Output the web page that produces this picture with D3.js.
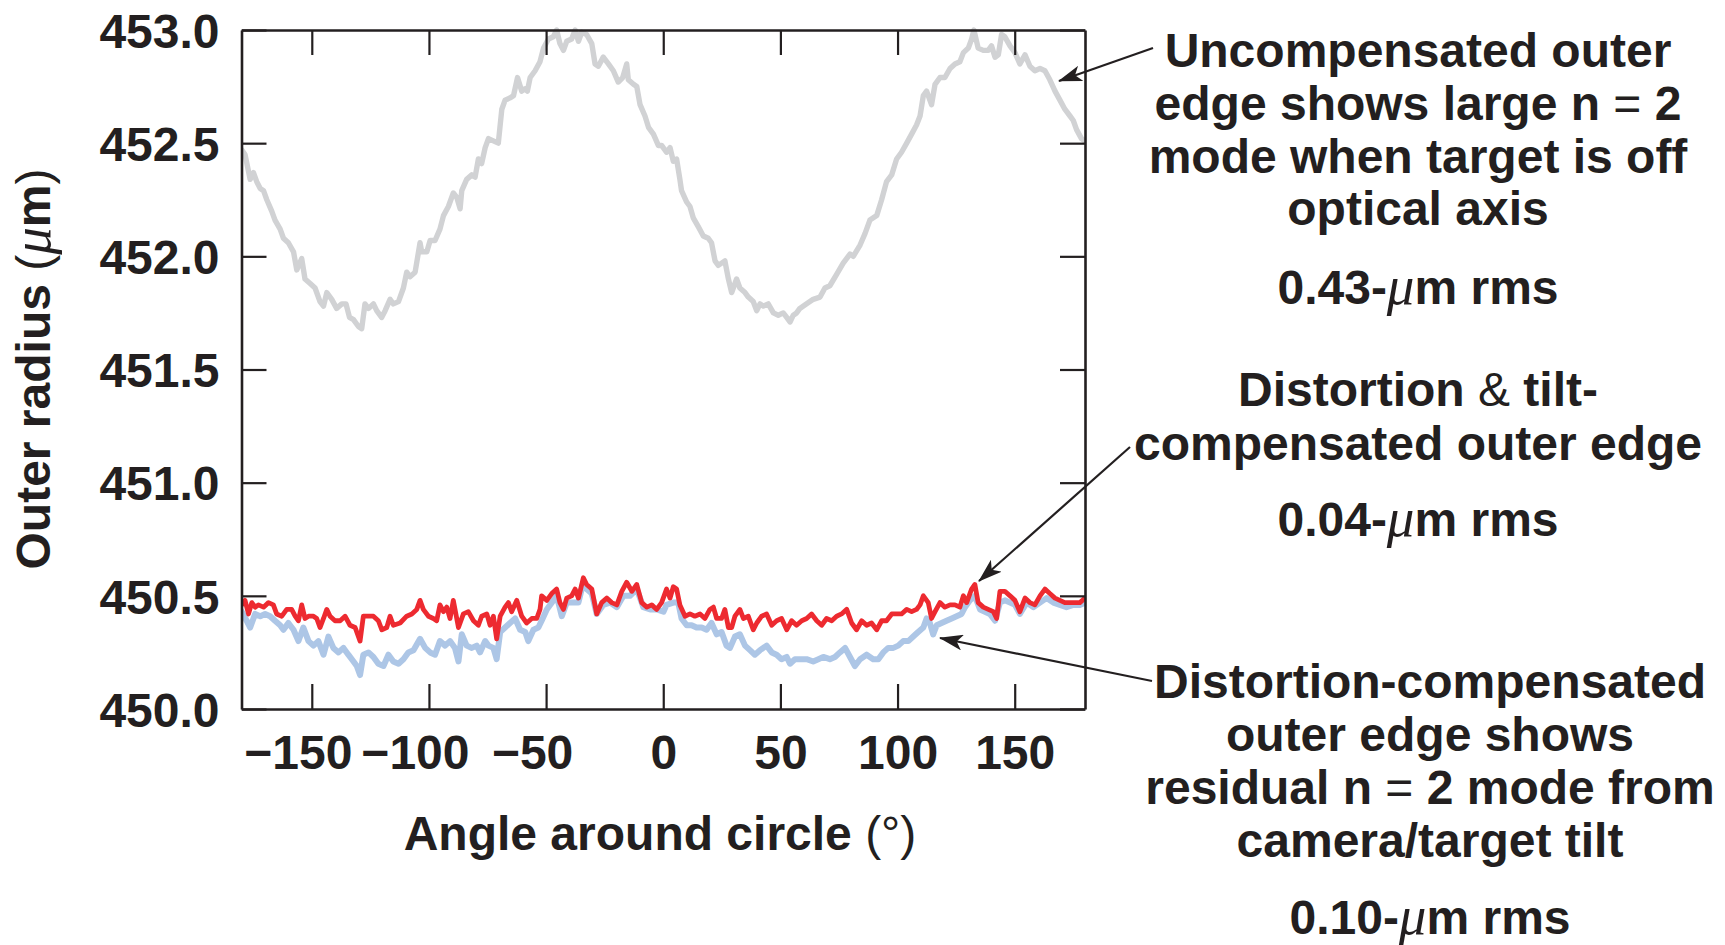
<!DOCTYPE html>
<html><head><meta charset="utf-8">
<script src="https://cdn.jsdelivr.net/npm/d3@7"></script>
<style>
html,body{margin:0;padding:0;background:#fff;}
svg{display:block;}
</style></head>
<body>
<svg id="chart" width="1725" height="945"></svg>
<script>
// ---------------- DATA ----------------
const xTicks = [-150, -100, -50, 0, 50, 100, 150];
const xTickLabels = ["\u2212150", "\u2212100", "\u221250", "0", "50", "100", "150"];
const yTicks = [450.0, 450.5, 451.0, 451.5, 452.0, 452.5, 453.0];
const yTickLabels = ["450.0", "450.5", "451.0", "451.5", "452.0", "452.5", "453.0"];

// Uncompensated outer edge (gray)
const grayAngle = [-179.9,-178.5,-176.3,-174.9,-173.5,-172.0,-170.6,-169.2,-167.1,-165.7,-163.5,-162.1,-160.0,-157.8,-156.4,-154.3,-152.9,-150.7,-148.6,-146.5,-145.0,-143.6,-141.5,-139.4,-137.2,-135.4,-133.9,-132.2,-130.1,-128.7,-127.3,-125.8,-123.7,-122.3,-120.2,-118.7,-116.6,-115.2,-113.0,-110.9,-109.5,-108.1,-105.9,-103.8,-103.1,-100.9,-99.5,-97.4,-95.3,-93.8,-91.7,-89.6,-88.1,-86.7,-86.0,-83.9,-81.7,-80.3,-78.9,-77.5,-76.0,-74.6,-72.5,-70.4,-68.9,-67.5,-65.4,-63.9,-62.2,-60.4,-59.0,-58.0,-56.8,-54.7,-52.6,-51.1,-49.0,-46.9,-45.5,-44.1,-42.6,-41.2,-39.1,-37.6,-36.2,-34.8,-32.7,-30.5,-29.1,-27.7,-25.6,-23.4,-21.3,-19.2,-17.3,-15.6,-14.9,-12.7,-11.3,-9.9,-7.8,-6.3,-4.2,-2.1,-0.7,1.4,2.9,4.3,5.7,7.1,7.8,10.0,11.4,12.8,15.0,17.1,19.2,20.6,22.1,23.5,26.3,27.8,29.2,31.3,32.7,34.9,36.3,38.4,39.9,41.3,42.7,44.8,47.0,49.1,51.2,52.7,54.1,55.5,56.9,58.3,61.2,64.0,66.9,69.0,71.1,74.0,76.8,79.7,81.1,84.0,86.1,88.2,91.1,93.2,95.3,97.5,99.6,101.7,103.9,106.0,108.1,109.6,111.0,112.4,114.5,116.0,118.1,120.2,122.4,124.5,126.6,128.1,130.2,131.6,132.6,134.4,136.6,138.7,140.1,141.6,143.0,144.4,145.8,148.0,150.1,152.2,154.4,156.5,158.6,160.8,162.9,165.0,167.2,169.3,171.4,173.6,175.0,176.4,178.5,180.0];
const grayValue = [452.47,452.45,452.34,452.37,452.33,452.30,452.29,452.25,452.20,452.16,452.12,452.08,452.06,452.02,451.94,451.99,451.90,451.88,451.86,451.80,451.78,451.84,451.81,451.77,451.79,451.79,451.73,451.72,451.69,451.68,451.79,451.77,451.79,451.76,451.73,451.76,451.81,451.79,451.80,451.86,451.93,451.91,451.93,452.06,452.02,452.02,452.07,452.07,452.12,452.18,452.22,452.28,452.26,452.21,452.29,452.34,452.36,452.35,452.43,452.41,452.48,452.52,452.51,452.50,452.65,452.69,452.70,452.71,452.79,452.73,452.74,452.73,452.79,452.82,452.86,452.92,452.96,452.97,453.00,452.94,452.91,452.95,452.96,453.00,452.95,452.99,452.98,452.94,452.85,452.84,452.88,452.85,452.82,452.77,452.79,452.85,452.78,452.76,452.75,452.67,452.62,452.57,452.54,452.49,452.49,452.46,452.48,452.42,452.43,452.34,452.29,452.24,452.22,452.17,452.13,452.09,452.08,452.06,451.98,451.96,451.98,451.90,451.84,451.90,451.86,451.84,451.82,451.80,451.76,451.79,451.78,451.79,451.75,451.74,451.75,451.73,451.71,451.74,451.75,451.77,451.79,451.81,451.82,451.86,451.87,451.92,451.97,452.01,452.00,452.05,452.10,452.16,452.18,452.25,452.33,452.36,452.43,452.46,452.50,452.54,452.58,452.62,452.71,452.73,452.67,452.76,452.79,452.79,452.83,452.85,452.86,452.90,452.92,452.96,453.00,452.92,452.91,452.91,452.93,452.88,452.89,452.98,452.97,452.93,452.90,452.85,452.89,452.84,452.82,452.83,452.82,452.78,452.73,452.69,452.65,452.62,452.60,452.56,452.52,452.51];

// Distortion-compensated outer edge (light blue)
const blueAngle = [-179.9,-177.8,-176.3,-174.2,-172.0,-169.9,-167.8,-165.7,-163.5,-162.1,-160.0,-157.8,-155.7,-153.6,-151.4,-149.3,-147.2,-145.0,-142.9,-140.8,-138.6,-136.5,-134.4,-132.2,-130.8,-129.4,-128.0,-125.8,-123.7,-121.6,-119.4,-117.3,-115.2,-113.0,-110.9,-108.8,-106.6,-103.8,-101.6,-99.5,-97.4,-95.3,-93.1,-91.0,-88.9,-87.4,-86.0,-83.9,-81.7,-79.6,-78.2,-76.0,-74.6,-72.5,-71.1,-69.6,-67.5,-65.4,-63.2,-61.1,-58.9,-57.6,-55.4,-53.3,-51.9,-49.7,-47.6,-45.5,-43.3,-41.2,-38.4,-36.2,-34.1,-32.7,-30.5,-28.4,-25.6,-22.7,-19.8,-17.0,-14.2,-11.3,-8.5,-5.6,-2.8,0.1,1.4,4.3,6.4,7.8,10.0,12.1,14.2,16.4,18.5,20.6,22.8,24.9,27.0,28.5,30.6,32.7,34.9,37.0,39.1,41.3,44.1,46.3,48.4,50.5,52.7,54.1,56.2,58.3,61.2,64.0,66.2,68.3,71.1,73.3,75.4,77.6,79.7,81.8,84.0,86.8,89.6,91.8,93.9,96.0,98.2,100.3,102.4,104.6,106.7,108.8,111.0,112.4,113.8,115.2,116.7,118.8,120.9,123.1,125.2,127.3,128.8,130.9,133.0,135.2,137.3,139.4,141.6,143.7,145.8,148.0,150.1,152.2,155.1,157.9,160.8,163.6,166.5,169.3,172.1,175.0,177.8,180.0];
const blueValue = [450.43,450.39,450.36,450.42,450.41,450.42,450.41,450.39,450.37,450.35,450.38,450.35,450.30,450.36,450.30,450.28,450.30,450.24,450.32,450.27,450.25,450.27,450.24,450.21,450.19,450.15,450.24,450.25,450.23,450.20,450.19,450.24,450.21,450.20,450.22,450.25,450.26,450.31,450.27,450.25,450.24,450.30,450.28,450.30,450.27,450.21,450.33,450.28,450.27,450.28,450.25,450.30,450.28,450.27,450.22,450.34,450.36,450.38,450.40,450.35,450.34,450.30,450.35,450.36,450.39,450.44,450.47,450.50,450.41,450.47,450.47,450.47,450.56,450.53,450.51,450.42,450.46,450.47,450.45,450.50,450.50,450.53,450.45,450.44,450.44,450.43,450.46,450.47,450.47,450.40,450.37,450.37,450.36,450.36,450.35,450.38,450.33,450.34,450.28,450.27,450.32,450.33,450.28,450.26,450.24,450.26,450.28,450.25,450.24,450.22,450.23,450.20,450.22,450.22,450.22,450.21,450.22,450.23,450.22,450.23,450.25,450.27,450.23,450.19,450.22,450.24,450.22,450.22,450.25,450.27,450.27,450.28,450.30,450.30,450.32,450.34,450.36,450.40,450.38,450.33,450.37,450.38,450.39,450.40,450.41,450.42,450.45,450.48,450.50,450.44,450.43,450.42,450.39,450.47,450.48,450.47,450.46,450.42,450.47,450.45,450.47,450.49,450.47,450.46,450.45,450.46,450.46,450.47];

// Distortion & tilt-compensated outer edge (red)
const redAngle = [-179.9,-178.5,-177.0,-175.6,-174.2,-172.8,-170.6,-168.5,-166.4,-165.0,-162.8,-160.7,-158.6,-157.1,-155.7,-154.3,-152.9,-151.4,-149.3,-147.9,-146.5,-145.0,-143.6,-142.2,-140.1,-137.9,-135.8,-133.7,-131.5,-129.4,-128.0,-125.8,-123.7,-121.6,-120.1,-118.0,-116.6,-115.2,-112.3,-109.5,-107.3,-105.2,-103.8,-102.4,-100.2,-98.1,-96.7,-95.3,-93.8,-92.4,-91.0,-89.6,-87.4,-85.3,-83.2,-81.0,-78.9,-77.5,-75.3,-73.9,-72.5,-71.1,-69.6,-67.5,-66.1,-64.7,-62.5,-60.4,-58.3,-56.1,-54.0,-52.6,-51.9,-49.7,-47.6,-45.5,-44.1,-42.6,-41.2,-39.1,-37.6,-36.2,-34.1,-32.7,-30.5,-28.4,-26.3,-24.1,-22.0,-19.8,-17.7,-15.6,-13.4,-11.3,-9.2,-7.0,-4.9,-2.8,-0.7,0.0,1.4,2.9,4.3,5.7,7.1,9.3,11.4,13.5,15.7,17.8,19.9,21.4,22.8,24.9,26.3,27.8,29.2,30.6,32.7,34.2,36.3,38.4,39.9,42.0,44.1,46.3,48.4,50.5,52.7,54.8,56.9,59.1,61.2,63.3,65.5,67.6,69.7,71.9,74.0,76.1,78.3,80.4,82.5,84.7,86.8,88.9,91.1,93.2,95.3,97.5,99.6,101.7,103.9,106.0,108.1,109.6,111.0,113.1,114.5,116.0,118.1,120.2,122.4,124.5,126.6,128.1,129.5,131.6,133.0,134.4,136.6,138.7,140.9,142.3,143.7,145.8,148.0,150.1,152.2,154.4,156.5,158.6,160.8,162.9,165.0,167.2,169.3,171.4,173.6,175.7,177.8,180.0];
const redValue = [450.46,450.48,450.42,450.47,450.45,450.46,450.45,450.47,450.46,450.42,450.41,450.44,450.44,450.41,450.39,450.46,450.40,450.41,450.41,450.40,450.36,450.40,450.44,450.41,450.39,450.39,450.41,450.37,450.36,450.30,450.41,450.41,450.41,450.39,450.35,450.36,450.41,450.37,450.38,450.41,450.42,450.44,450.48,450.44,450.41,450.40,450.39,450.46,450.43,450.45,450.40,450.48,450.36,450.42,450.43,450.39,450.37,450.41,450.42,450.37,450.41,450.31,450.41,450.45,450.47,450.43,450.48,450.41,450.38,450.40,450.40,450.44,450.50,450.48,450.51,450.53,450.47,450.44,450.49,450.50,450.53,450.49,450.58,450.55,450.53,450.42,450.47,450.49,450.47,450.46,450.52,450.56,450.52,450.55,450.47,450.45,450.46,450.44,450.47,450.49,450.53,450.49,450.54,450.53,450.46,450.41,450.42,450.41,450.42,450.40,450.44,450.45,450.40,450.40,450.44,450.36,450.36,450.41,450.44,450.40,450.41,450.35,450.38,450.41,450.42,450.37,450.39,450.40,450.35,450.39,450.37,450.39,450.40,450.42,450.39,450.37,450.40,450.39,450.41,450.42,450.44,450.38,450.35,450.39,450.37,450.38,450.35,450.39,450.39,450.42,450.42,450.42,450.44,450.43,450.44,450.46,450.50,450.47,450.40,450.43,450.47,450.45,450.46,450.46,450.45,450.50,450.47,450.53,450.55,450.47,450.45,450.44,450.43,450.40,450.52,450.52,450.50,450.48,450.43,450.49,450.47,450.46,450.50,450.53,450.51,450.49,450.48,450.47,450.47,450.47,450.47,450.49];

// ---------------- DRAWING ----------------
const INK = "#231f20";
const FONT = "'Liberation Sans', Arial, Helvetica, sans-serif";
const FS = 48;

const svg = d3.select("#chart");
svg.append("rect").attr("width", 1725).attr("height", 945).attr("fill", "#fff");

const x = d3.scaleLinear().domain([-180, 180]).range([241.5, 1085]);
const y = d3.scaleLinear().domain([450, 453]).range([709, 30]);

const plot = svg.append("g");
svg.append("defs").append("clipPath").attr("id", "pclip")
  .append("rect").attr("x", 241.5).attr("y", 26).attr("width", 843.5).attr("height", 686);

const line = d3.line().x(d => x(d[0])).y(d => y(d[1]));
const zip = (a, b) => a.map((v, i) => [v, b[i]]);

const series = [
  { data: zip(grayAngle, grayValue), color: "#d1d2d4", w: 5.4 },
  { data: zip(blueAngle, blueValue), color: "#adc6e6", w: 6.0 },
  { data: zip(redAngle, redValue), color: "#ed2a30", w: 4.8 }
];
plot.append("g").attr("clip-path", "url(#pclip)")
  .selectAll("path").data(series).join("path")
  .attr("d", d => line(d.data))
  .attr("fill", "none")
  .attr("stroke", d => d.color)
  .attr("stroke-width", d => d.w)
  .attr("stroke-linejoin", "round")
  .attr("stroke-linecap", "round");

// axes
const TL = 25;
function styleAxis(g) {
  g.select(".domain").attr("stroke", INK).attr("stroke-width", 2.6);
  g.selectAll(".tick line").attr("stroke", INK).attr("stroke-width", 2.2);
  g.selectAll(".tick text").attr("fill", INK).style("font-family", FONT)
    .style("font-size", FS + "px").style("font-weight", "bold");
}
const gb = svg.append("g").attr("transform", `translate(0,${y(450)})`)
  .call(d3.axisBottom(x).tickValues(xTicks).tickSizeInner(-TL).tickSizeOuter(0).tickPadding(TL + 1)
    .tickFormat((d, i) => xTickLabels[i]));
styleAxis(gb);
// center the digits on the tick (minus sign hangs to the left)
gb.selectAll(".tick text").each(function(d) {
  const t = d3.select(this);
  if (d < 0) {
    const full = this.getComputedTextLength();
    t.text(String(Math.abs(d)));
    const digits = this.getComputedTextLength();
    t.text(xTickLabels[xTicks.indexOf(d)]);
    t.attr("dx", -(full - digits) / 2);
  }
});
const gt = svg.append("g").attr("transform", `translate(0,${y(453)})`)
  .call(d3.axisTop(x).tickValues(xTicks).tickSizeInner(-TL).tickSizeOuter(0).tickFormat(""));
styleAxis(gt);
const gl = svg.append("g").attr("transform", `translate(${x(-180)},0)`)
  .call(d3.axisLeft(y).tickValues(yTicks).tickSizeInner(-TL).tickSizeOuter(0).tickPadding(22)
    .tickFormat((d, i) => yTickLabels[i]));
styleAxis(gl);
gl.selectAll(".tick text").attr("dy", "0.36em");
const gr = svg.append("g").attr("transform", `translate(${x(180)},0)`)
  .call(d3.axisRight(y).tickValues(yTicks).tickSizeInner(-TL).tickSizeOuter(0).tickFormat(""));
styleAxis(gr);

// rich text helper
function rich(parent, xPos, yPos, segs, anchor, transform) {
  const t = parent.append("text")
    .attr("x", xPos).attr("y", yPos)
    .attr("text-anchor", anchor || "middle")
    .attr("fill", INK)
    .style("font-family", FONT).style("font-size", FS + "px").style("font-weight", "bold");
  if (transform) t.attr("transform", transform);
  segs.forEach(s => {
    if (typeof s === "string") { t.append("tspan").text(s); return; }
    const sp = t.append("tspan").text(s.t);
    if (s.w) sp.style("font-weight", s.w);
    if (s.it) sp.style("font-style", "italic").style("font-family", "'Liberation Serif', 'Times New Roman', serif")
      .style("font-weight", "normal").style("font-size", Math.round(FS * 1.15) + "px");
  });
  return t;
}
const thin = s => ({ t: s, w: "normal" });
const mu = { t: "\u03bc", it: true };

// axis titles
rich(svg, 660, 850, ["Angle around circle ", thin("(\u00b0)")]);
rich(svg, 0, 0, ["Outer radius ", thin("("), mu, "m", thin(")")], "middle", "translate(50,369) rotate(-90)");

// annotations
const annos = [
  { x: 1418, y: 67, segs: ["Uncompensated outer"] },
  { x: 1418, y: 120, segs: ["edge shows large n ", thin("="), " 2"] },
  { x: 1418, y: 173, segs: ["mode when target is off"] },
  { x: 1418, y: 225, segs: ["optical axis"] },
  { x: 1418, y: 304, segs: ["0.43-", mu, "m rms"] },
  { x: 1418, y: 406, segs: ["Distortion ", thin("&"), " tilt-"] },
  { x: 1418, y: 460, segs: ["compensated outer edge"] },
  { x: 1418, y: 536, segs: ["0.04-", mu, "m rms"] },
  { x: 1430, y: 698, segs: ["Distortion-compensated"] },
  { x: 1430, y: 751, segs: ["outer edge shows"] },
  { x: 1430, y: 804, segs: ["residual n ", thin("="), " 2 mode from"] },
  { x: 1430, y: 857, segs: ["camera/target tilt"] },
  { x: 1430, y: 934, segs: ["0.10-", mu, "m rms"] }
];
annos.forEach(a => rich(svg, a.x, a.y, a.segs));

// arrows
svg.select("defs").append("marker")
  .attr("id", "ah").attr("markerUnits", "userSpaceOnUse")
  .attr("viewBox", "0 0 24 16").attr("refX", 23).attr("refY", 8)
  .attr("markerWidth", 24).attr("markerHeight", 16).attr("orient", "auto")
  .append("path").attr("d", "M0,0 L24,8 L0,16 L6,8 Z").attr("fill", INK);
const arrows = [
  [1153, 48, 1059, 81],
  [1130, 447, 979, 581],
  [1152, 681, 940, 638]
];
svg.append("g").selectAll("line").data(arrows).join("line")
  .attr("x1", d => d[0]).attr("y1", d => d[1]).attr("x2", d => d[2]).attr("y2", d => d[3])
  .attr("stroke", INK).attr("stroke-width", 2.2).attr("marker-end", "url(#ah)");
</script>
</body></html>
